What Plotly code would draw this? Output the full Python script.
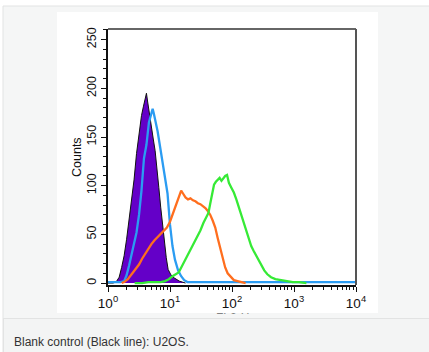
import plotly.graph_objects as go

# ---- data (log10 of FL2-H, counts) ----
blank_log = [0.00,0.08,0.13,0.18,0.22,0.26,0.30,0.34,0.38,0.42,0.46,0.50,0.54,0.57,0.60,0.62,0.64,0.67,0.70,0.73,0.76,0.79,0.82,0.85,0.88,0.91,0.94,0.97,1.01,1.05,1.10,1.15,1.20,1.25]
blank_cnt = [0,0,1,6,16,28,45,64,84,106,133,156,172,181,190,195,186,172,160,148,136,120,98,78,58,40,26,14,9,6,4,2,1,0]

blue_log = [0.00,0.10,0.20,0.26,0.30,0.34,0.38,0.42,0.46,0.50,0.54,0.58,0.62,0.66,0.69,0.72,0.74,0.77,0.80,0.84,0.88,0.92,0.96,1.00,1.04,1.08,1.13,1.18,1.23,1.28,1.35,1.50,2.00,3.00,4.00]
blue_cnt = [1,1,1,2,8,18,30,41,52,70,95,128,142,165,172,179,174,165,156,140,123,108,92,60,38,24,13,7,3,1,1,1,1,1,1]

orange_log = [0.22,0.26,0.32,0.38,0.44,0.50,0.55,0.60,0.65,0.70,0.75,0.80,0.85,0.90,0.95,1.00,1.04,1.08,1.12,1.15,1.18,1.21,1.25,1.29,1.33,1.37,1.41,1.45,1.49,1.53,1.57,1.61,1.65,1.69,1.73,1.77,1.81,1.85,1.89,1.93,1.98,2.03,2.09,2.15,2.22]
orange_cnt = [0,1,4,9,14,19,25,30,36,40,44,47,50,54,57,63,70,78,86,91,95,92,88,86,87,85,84,82,81,79,77,74,70,64,57,46,35,24,16,10,6,3,2,1,0]

green_log = [0.43,0.55,0.65,0.75,0.85,0.92,0.98,1.04,1.09,1.14,1.19,1.24,1.29,1.34,1.39,1.44,1.49,1.54,1.58,1.62,1.65,1.68,1.71,1.74,1.77,1.80,1.83,1.86,1.89,1.92,1.95,1.99,2.03,2.07,2.11,2.15,2.19,2.23,2.27,2.31,2.35,2.39,2.43,2.47,2.52,2.57,2.63,2.70,2.78,2.88,2.98,3.08,3.20]
green_cnt = [0,0,1,1,1,2,4,7,9,11,17,23,29,36,42,47,54,62,67,72,82,93,101,104,106,108,105,108,110,111,103,98,93,86,78,70,62,53,45,38,33,28,24,19,13,9,6,4,3,2,1,1,0]

x_tickvals = [1, 10, 100, 1000, 10000]
x_ticktext = ["10<sup>0</sup>", "10<sup>1</sup>", "10<sup>2</sup>", "10<sup>3</sup>", "10<sup>4</sup>"]
y_tickvals = [0, 50, 100, 150, 200, 250]
caption = "Blank control (Black line): U2OS."

FONT = "Arial, Liberation Sans, Helvetica, sans-serif"

# layout geometry (pixels)
W, H = 429, 352
L, R, T, B = 108, 356, 29, 285
def px_x(p):
    return (p - L) / (R - L)
def px_y(p):
    return (B - p) / (B - T)

fig = go.Figure()
fig.add_trace(go.Scatter(x=[10 ** v for v in blank_log], y=blank_cnt, mode="lines",
                         line=dict(color="#111111", width=1), fill="tozeroy",
                         fillcolor="#6400c8", hoverinfo="skip"))
fig.add_trace(go.Scatter(x=[10 ** v for v in blue_log], y=blue_cnt, mode="lines",
                         line=dict(color="#2b9cf2", width=2.3), hoverinfo="skip"))
fig.add_trace(go.Scatter(x=[10 ** v for v in orange_log], y=orange_cnt, mode="lines",
                         line=dict(color="#ff6e1e", width=2.3), hoverinfo="skip"))
fig.add_trace(go.Scatter(x=[10 ** v for v in green_log], y=green_cnt, mode="lines",
                         line=dict(color="#36ea36", width=2.3), hoverinfo="skip"))

minor_x = [k * 10 ** d for d in range(4) for k in range(2, 10)]

fig.update_layout(
    width=W, height=H, showlegend=False,
    margin=dict(l=L, r=W - R, t=T, b=H - B, pad=0),
    paper_bgcolor="white", plot_bgcolor="white",
    font=dict(family=FONT, size=12, color="#111111"),
    xaxis=dict(type="log", range=[0, 4], tickmode="array", tickvals=x_tickvals,
               ticktext=x_ticktext, ticks="outside", ticklen=5, tickwidth=1.2,
               tickcolor="#111", showline=True, linecolor="#111", linewidth=1.5,
               showgrid=False, zeroline=False, tickfont=dict(size=13.5),
               minor=dict(tickmode="array", tickvals=minor_x, ticks="outside",
                          ticklen=3, tickwidth=1, tickcolor="#111", showgrid=False)),
    yaxis=dict(range=[-2, 261], tickmode="array", tickvals=y_tickvals,
               ticks="outside", ticklen=5, tickwidth=1.2, tickcolor="#111",
               showline=True, linecolor="#111", linewidth=1.5, showgrid=False,
               zeroline=False, tickangle=-90, tickfont=dict(size=12.5),
               minor=dict(dtick=10, ticks="outside", ticklen=3, tickwidth=1,
                          tickcolor="#111", showgrid=False)),
)

shapes = [
    dict(type="rect", xref="paper", yref="paper", layer="below",
         x0=px_x(3), x1=px_x(440), y0=px_y(6), y1=px_y(360),
         fillcolor="#f5f6f6", line=dict(color="#e2e3e3", width=1)),
    dict(type="rect", xref="paper", yref="paper", layer="below",
         x0=px_x(57), x1=px_x(378), y0=px_y(12), y1=px_y(313),
         fillcolor="white", line=dict(width=0)),
    dict(type="line", xref="paper", yref="paper", x0=0, x1=1, y0=1, y1=1,
         line=dict(color="#666", width=2)),
    dict(type="line", xref="paper", yref="paper", x0=1, x1=1, y0=0, y1=1,
         line=dict(color="#555", width=2)),
]
fig.update_layout(shapes=shapes)

annotations = [
    dict(text="Counts", xref="paper", yref="paper", x=px_x(77), y=px_y(157),
         xanchor="center", yanchor="middle",
         textangle=-90, showarrow=False, font=dict(size=12.5, color="#111")),
    dict(text="FL2-H", xref="paper", yref="paper", x=px_x(232), y=px_y(309),
         xanchor="center", yanchor="top", showarrow=False, font=dict(size=12, color="#111")),
    dict(text=" ", xref="paper", yref="paper", x=px_x(3.5), y=px_y(313),
         xanchor="left", yanchor="top", width=440, height=5, borderpad=0,
         bgcolor="#f5f6f6", showarrow=False),
    dict(text=" ", xref="paper", yref="paper", x=px_x(3), y=px_y(318),
         xanchor="left", yanchor="top", width=440, height=50, borderpad=0,
         bgcolor="#f3f4f4", bordercolor="#e2e3e3", borderwidth=1, showarrow=False),
    dict(text=caption, xref="paper", yref="paper", x=px_x(12), y=px_y(342),
         xanchor="left", yanchor="middle", showarrow=False,
         font=dict(size=12, color="#333333")),
]
fig.update_layout(annotations=annotations)

fig.write_html("out.html")
